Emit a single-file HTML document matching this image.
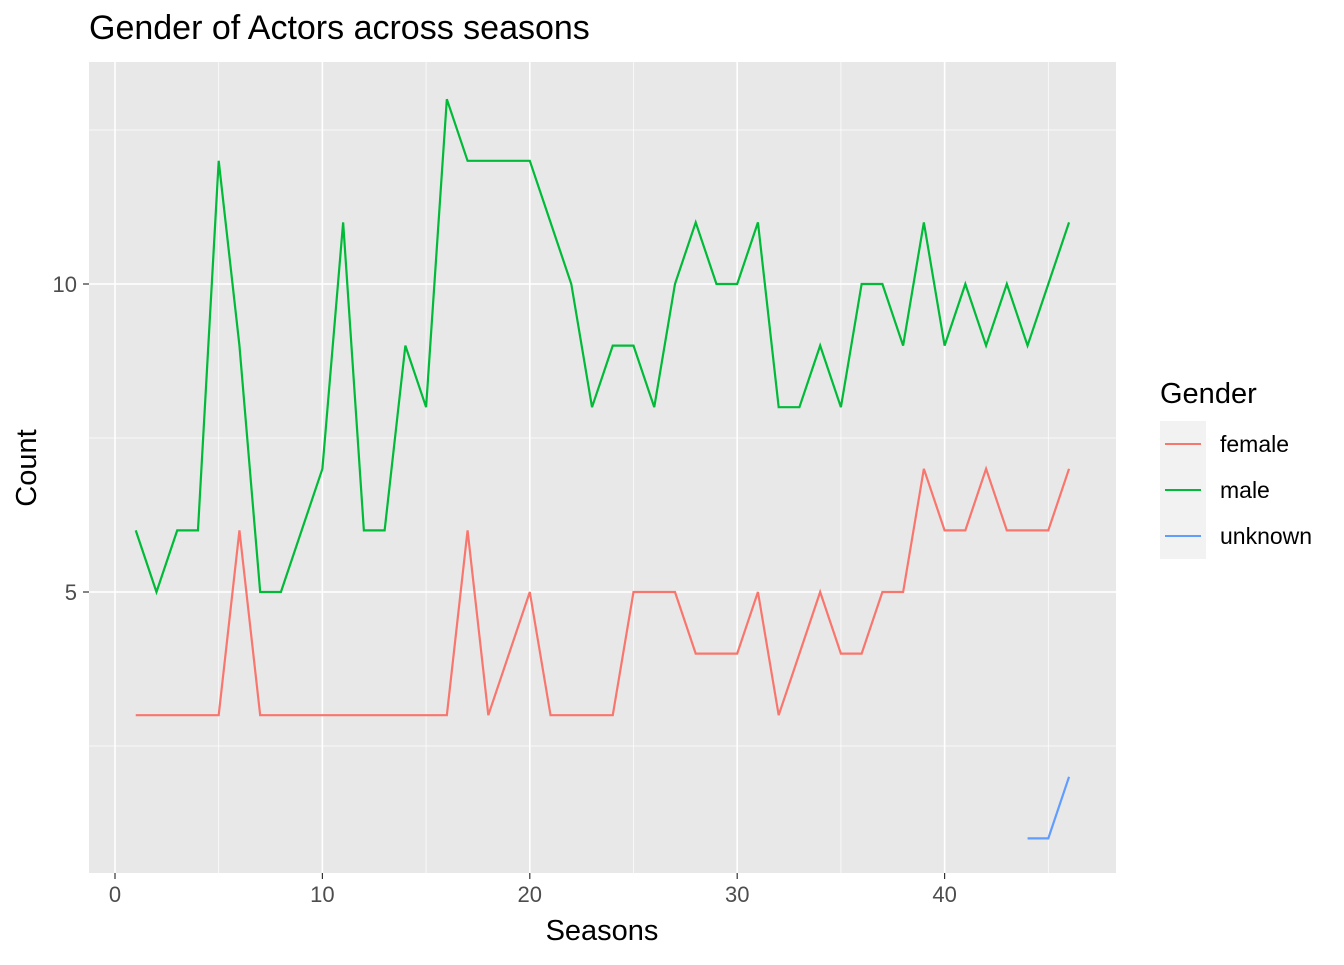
<!DOCTYPE html>
<html><head><meta charset="utf-8"><style>
html,body{margin:0;padding:0;background:#fff;}
svg text{font-family:"Liberation Sans",Arial,sans-serif;}
</style></head><body>
<svg id="chart" width="1344" height="960" xmlns="http://www.w3.org/2000/svg">
<text x="89" y="39" font-size="34" fill="#000">Gender of Actors across seasons</text>
<rect x="89" y="62" width="1027" height="811" fill="#E8E8E8"/>
<g id="grid"></g>
<g id="series"></g>
<g id="axes"></g>
<text x="602" y="940" font-size="29" text-anchor="middle">Seasons</text>
<text x="36" y="468" font-size="29" text-anchor="middle" transform="rotate(-90 36 468)">Count</text>
<g>
<text x="1160" y="403" font-size="29">Gender</text>
<rect x="1160" y="421" width="46" height="138" fill="#F2F2F2"/>
<line x1="1165" x2="1201" y1="444" y2="444" stroke="#F8766D" stroke-width="2"/>
<line x1="1165" x2="1201" y1="490" y2="490" stroke="#00BA38" stroke-width="2"/>
<line x1="1165" x2="1201" y1="536" y2="536" stroke="#619CFF" stroke-width="2"/>
<text x="1220" y="452" font-size="23">female</text>
<text x="1220" y="498" font-size="23">male</text>
<text x="1220" y="544" font-size="23">unknown</text>
</g>
</svg>
<script>
const seasons = Array.from({length:46},(_,i)=>i+1);
const maleCounts = [6,5,6,6,12,9,5,5,6,7,11,6,6,9,8,13,12,12,12,12,11,10,8,9,9,8,10,11,10,10,11,8,8,9,8,10,10,9,11,9,10,9,10,9,10,11];
const femaleCounts = [3,3,3,3,3,6,3,3,3,3,3,3,3,3,3,3,6,3,4,5,3,3,3,3,5,5,5,4,4,4,5,3,4,5,4,4,5,5,7,6,6,7,6,6,6,7];
const unknownSeasons = [44,45,46];
const unknownCounts = [1,1,2];
const xTicks = [0,10,20,30,40];
const yTicks = [5,10];

const xs = v => 115 + v*20.74;
const ys = v => 900 - v*61.6;
const NS='http://www.w3.org/2000/svg';
function mk(tag, attrs, parent){const e=document.createElementNS(NS,tag);for(const k in attrs)e.setAttribute(k,attrs[k]);parent.appendChild(e);return e;}
const grid=document.getElementById('grid'), axes=document.getElementById('axes'), series=document.getElementById('series');
[2.5,7.5,12.5].forEach(v=>{const l=mk('line',{x1:89,x2:1116,y1:ys(v),y2:ys(v),stroke:'#fff','stroke-width':0.7},grid);

});
[5,15,25,35,45].forEach(v=>{const l=mk('line',{x1:xs(v),x2:xs(v),y1:62,y2:873,stroke:'#fff','stroke-width':0.7},grid);

});
yTicks.forEach(v=>{const l=mk('line',{x1:89,x2:1116,y1:ys(v),y2:ys(v),stroke:'#fff','stroke-width':1.6},grid);


const t=mk('line',{x1:83,x2:89,y1:ys(v),y2:ys(v),stroke:'#333','stroke-width':1.2},axes);


const tx=mk('text',{x:77,y:ys(v)+8,'font-size':22,'text-anchor':'end',fill:'#4D4D4D'},axes);tx.textContent=v;

});
xTicks.forEach(v=>{const l=mk('line',{x1:xs(v),x2:xs(v),y1:62,y2:873,stroke:'#fff','stroke-width':1.6},grid);


const t=mk('line',{x1:xs(v),x2:xs(v),y1:873,y2:879,stroke:'#333','stroke-width':1.2},axes);


const tx=mk('text',{x:xs(v),y:902,'font-size':22,'text-anchor':'middle',fill:'#4D4D4D'},axes);tx.textContent=v;

});
function line(xv,yv,color,name){const p=mk('polyline',{points:xv.map((x,i)=>xs(x)+','+ys(yv[i])).join(' '),fill:'none',stroke:color,'stroke-width':2.2},series);

}
line(seasons,femaleCounts,'#F8766D','female-line');
line(seasons,maleCounts,'#00BA38','male-line');
line(unknownSeasons,unknownCounts,'#619CFF','unknown-line');
</script>
</body></html>
